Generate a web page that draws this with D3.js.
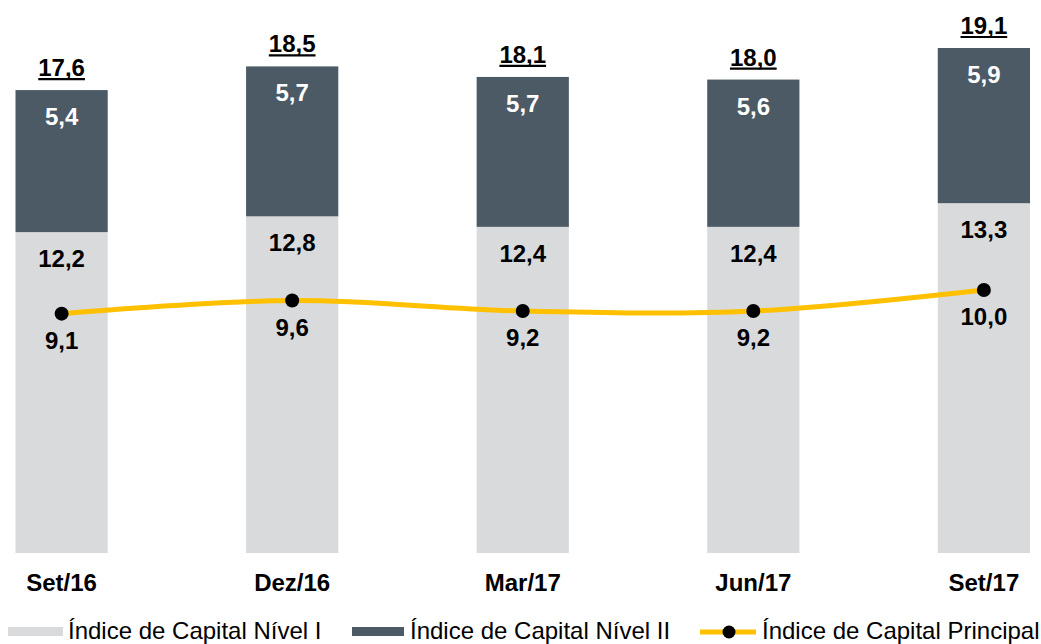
<!DOCTYPE html>
<html><head><meta charset="utf-8">
<script src="https://cdnjs.cloudflare.com/ajax/libs/d3/7.8.5/d3.min.js"></script>
<style>body{margin:0;background:#fff}svg{display:block}text{font-family:"Liberation Sans",Arial,sans-serif}</style>
</head><body><svg id="c" width="1041" height="644"></svg>
<script>
const categories = ["Set/16","Dez/16","Mar/17","Jun/17","Set/17"];
const nivel1 = [12.2, 12.8, 12.4, 12.4, 13.3];
const nivel2 = [5.4, 5.7, 5.7, 5.6, 5.9];
const totals = ["17,6","18,5","18,1","18,0","19,1"];
const principal = [9.1, 9.6, 9.2, 9.2, 10.0];
const legendLabels = ["Índice de Capital Nível I","Índice de Capital Nível II","Índice de Capital Principal"];

const C_L = "#d9dadc", C_D = "#4b5a65", C_Y = "#ffc000";
const fmt = v => v.toFixed(1).replace(".", ",");
const svg = d3.select("#c");
const x = d3.scaleBand().domain(categories).range([15.5, 1030]).paddingInner(0.6).paddingOuter(0);
const y = d3.scaleLinear().domain([0, 19.2]).range([553, 48]);

const g = svg.append("g");
categories.forEach((c, i) => {
  const x0 = x(c), w = x.bandwidth(), cx = x0 + w / 2;
  const t1 = y(nivel1[i]), t2 = y(nivel1[i] + nivel2[i]);
  g.append("rect").attr("x", x0).attr("y", t1).attr("width", w).attr("height", y(0) - t1).attr("fill", C_L);
  g.append("rect").attr("x", x0).attr("y", t2).attr("width", w).attr("height", t1 - t2).attr("fill", C_D);
  g.append("text").attr("x", cx).attr("y", t1 + 35).attr("text-anchor", "middle").attr("font-size", 24).attr("font-weight", "bold").attr("fill", "#000").text(fmt(nivel1[i]));
  g.append("text").attr("x", cx).attr("y", t2 + 35).attr("text-anchor", "middle").attr("font-size", 24).attr("font-weight", "bold").attr("fill", "#fff").text(fmt(nivel2[i]));
  const tt = g.append("text").attr("x", cx).attr("y", t2 - 14).attr("text-anchor", "middle").attr("font-size", 24).attr("font-weight", "bold").attr("fill", "#000").text(totals[i]);
  const bb = tt.node().getBBox();
  g.append("line").attr("x1", bb.x).attr("x2", bb.x + bb.width).attr("y1", t2 - 11).attr("y2", t2 - 11).attr("stroke", "#000").attr("stroke-width", 2.2);
  g.append("text").attr("x", cx).attr("y", 591).attr("text-anchor", "middle").attr("font-size", 24).attr("font-weight", "bold").attr("fill", "#000").text(c);
});

const line = d3.line().x((d, i) => x(categories[i]) + x.bandwidth() / 2).y(d => y(d)).curve(d3.curveCardinal.tension(0));
g.append("path").datum(principal).attr("d", line).attr("fill", "none").attr("stroke", C_Y).attr("stroke-width", 5);
principal.forEach((v, i) => {
  const cx = x(categories[i]) + x.bandwidth() / 2;
  g.append("circle").attr("cx", cx).attr("cy", y(v)).attr("r", 7).attr("fill", "#000");
  g.append("text").attr("x", cx).attr("y", y(v) + 35).attr("text-anchor", "middle").attr("font-size", 24).attr("font-weight", "bold").attr("fill", "#000").text(fmt(v));
});

// legend
const lg = svg.append("g");
lg.append("rect").attr("x", 8).attr("y", 627).attr("width", 55).attr("height", 9).attr("fill", C_L);
lg.append("text").attr("x", 68).attr("y", 639).attr("font-size", 24).attr("fill", "#000").text(legendLabels[0]);
lg.append("rect").attr("x", 352).attr("y", 627).attr("width", 52).attr("height", 9).attr("fill", C_D);
lg.append("text").attr("x", 410).attr("y", 639).attr("font-size", 24).attr("fill", "#000").text(legendLabels[1]);
lg.append("line").attr("x1", 700).attr("x2", 756).attr("y1", 632).attr("y2", 632).attr("stroke", C_Y).attr("stroke-width", 5);
lg.append("circle").attr("cx", 729).attr("cy", 632).attr("r", 6.5).attr("fill", "#000");
lg.append("text").attr("x", 762).attr("y", 639).attr("font-size", 24).attr("fill", "#000").text(legendLabels[2]);
</script></body></html>
